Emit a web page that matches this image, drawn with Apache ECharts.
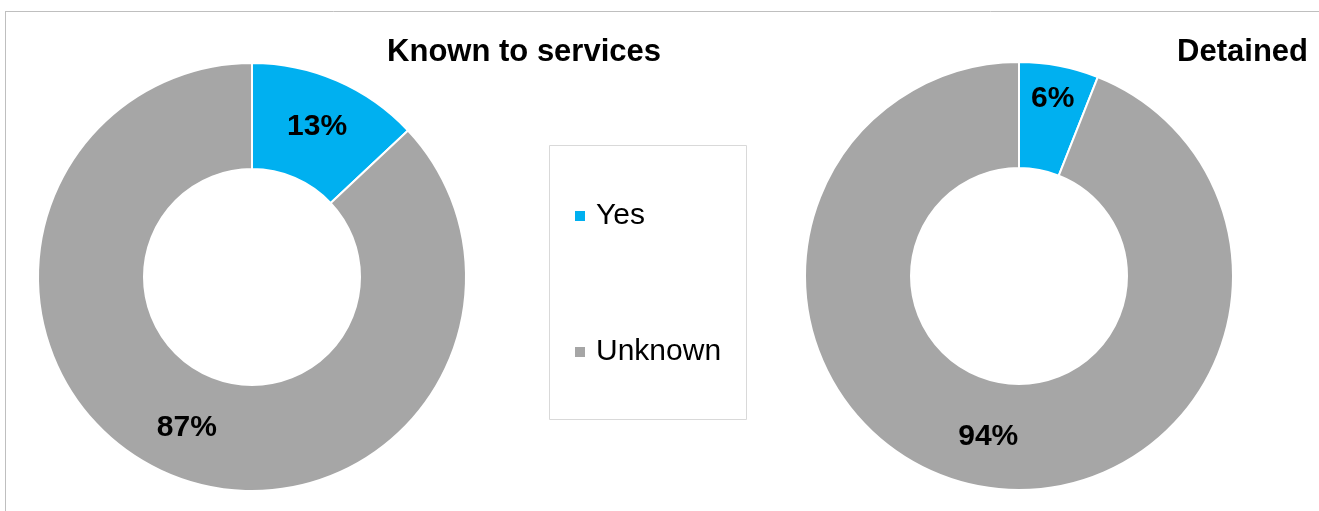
<!DOCTYPE html>
<html>
<head>
<meta charset="utf-8">
<script src="https://cdn.jsdelivr.net/npm/echarts@6/dist/echarts.min.js"></script>
<style>
html,body{margin:0;padding:0;background:#fff;}
#chart{width:1319px;height:511px;}
</style>
</head>
<body>
<div id="chart"></div>
<script>
const categories = ['Yes', 'Unknown'];
const chartTitles = ['Known to services', 'Detained'];
const knownValues = [13, 87];
const detainedValues = [6, 94];
const colors = ['#00B0F0', '#A6A6A6'];

const FONT = '"Liberation Sans", Arial, sans-serif';
const chart = echarts.init(document.getElementById('chart'), null, {renderer: 'canvas'});

function mkData(vals) {
  return categories.map((c, i) => ({name: c, value: vals[i], itemStyle: {color: colors[i]}}));
}

function pieSeries(vals, center, shiftFirst) {
  return {
    type: 'pie',
    center: center,
    radius: [108, 214],
    startAngle: 90,
    clockwise: true,
    silent: true,
    avoidLabelOverlap: false,
    itemStyle: {borderColor: '#fff', borderWidth: 2},
    label: {
      show: true,
      position: 'inside',
      formatter: '{c}%',
      fontFamily: FONT,
      fontSize: 30,
      fontWeight: 'bold',
      color: '#000'
    },
    labelLine: {show: false},
    labelLayout: shiftFirst ? function (p) { return p.dataIndex === 0 ? {dx: 3, dy: -16} : {}; } : null,
    data: mkData(vals)
  };
}

const option = {
  animation: false,
  backgroundColor: '#fff',
  title: [
    {text: chartTitles[0], right: 658, top: 37, padding: 0,
     textStyle: {fontFamily: FONT, fontSize: 31, fontWeight: 'bold', color: '#000', lineHeight: 31}},
    {text: chartTitles[1], right: 11, top: 37, padding: 0,
     textStyle: {fontFamily: FONT, fontSize: 31, fontWeight: 'bold', color: '#000', lineHeight: 31}}
  ],
  legend: {
    orient: 'vertical',
    left: 573,
    top: 201,
    padding: 0,
    itemGap: 106,
    itemWidth: 12,
    itemHeight: 12,
    icon: 'rect',
    selectedMode: false,
    data: categories,
    textStyle: {fontFamily: FONT, fontSize: 30, color: '#000', lineHeight: 30, padding: [0, 0, 0, 5]}
  },
  graphic: [
    {type: 'line', shape: {x1: 5, y1: 11.5, x2: 1319, y2: 11.5}, style: {stroke: '#BFBFBF', lineWidth: 1}, silent: true},
    {type: 'line', shape: {x1: 5.5, y1: 11, x2: 5.5, y2: 511}, style: {stroke: '#BFBFBF', lineWidth: 1}, silent: true},
    {type: 'rect', shape: {x: 549.5, y: 145.5, width: 197, height: 274}, style: {fill: 'none', stroke: '#D9D9D9', lineWidth: 1}, silent: true, z: -1}
  ],
  series: [
    pieSeries(knownValues, [252, 277], false),
    pieSeries(detainedValues, [1019, 276], true)
  ]
};
chart.setOption(option);
</script>
</body>
</html>
